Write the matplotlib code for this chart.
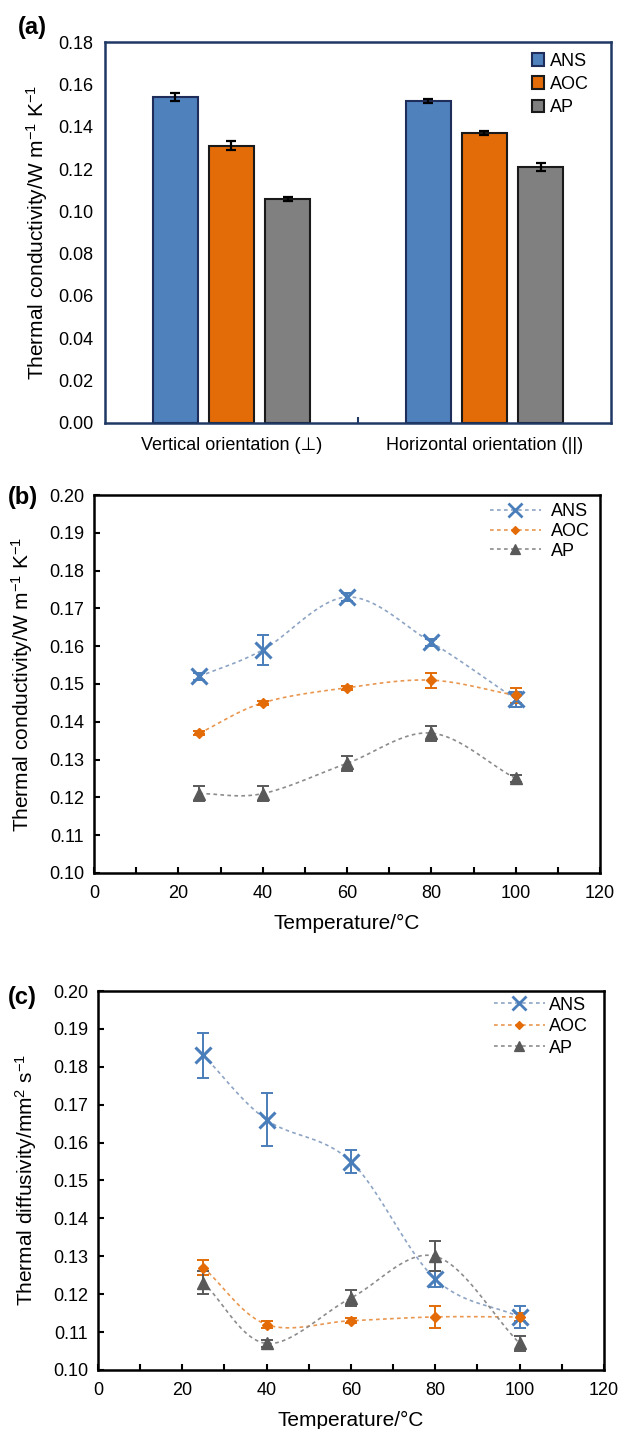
import numpy as np
import matplotlib
matplotlib.use("Agg")
import matplotlib.pyplot as plt

plt.rcParams['font.family'] = ['Liberation Sans', 'DejaVu Sans']
plt.rcParams['mathtext.fontset'] = 'custom'
plt.rcParams['mathtext.rm'] = 'Liberation Sans'
plt.rcParams['mathtext.it'] = 'Liberation Sans:italic'
plt.rcParams['mathtext.bf'] = 'Liberation Sans:bold'

# ---------------- data ----------------
orientations = ["Vertical orientation (\u22a5)", "Horizontal orientation (||)"]
series = ["ANS", "AOC", "AP"]
bar_vals = {"ANS": [0.154, 0.152], "AOC": [0.131, 0.137], "AP": [0.106, 0.121]}
bar_errs = {"ANS": [0.002, 0.001], "AOC": [0.002, 0.001], "AP": [0.001, 0.002]}

temps = [25, 40, 60, 80, 100]
cond_vals = {"ANS": [0.152, 0.159, 0.173, 0.161, 0.146],
             "AOC": [0.137, 0.145, 0.149, 0.151, 0.147],
             "AP":  [0.121, 0.121, 0.129, 0.137, 0.125]}
cond_errs = {"ANS": [0.001, 0.004, 0.001, 0.001, 0.002],
             "AOC": [0.0006, 0.0006, 0.0006, 0.002, 0.002],
             "AP":  [0.002, 0.002, 0.002, 0.002, 0.001]}
diff_vals = {"ANS": [0.183, 0.166, 0.155, 0.124, 0.114],
             "AOC": [0.127, 0.112, 0.113, 0.114, 0.114],
             "AP":  [0.123, 0.107, 0.119, 0.130, 0.107]}
diff_errs = {"ANS": [0.006, 0.007, 0.003, 0.002, 0.003],
             "AOC": [0.002, 0.001, 0.0006, 0.003, 0.001],
             "AP":  [0.003, 0.001, 0.002, 0.004, 0.002]}

yticks_a = [0.00, 0.02, 0.04, 0.06, 0.08, 0.10, 0.12, 0.14, 0.16, 0.18]
yticks_bc = [0.10, 0.11, 0.12, 0.13, 0.14, 0.15, 0.16, 0.17, 0.18, 0.19, 0.20]
xticks_bc = [0, 20, 40, 60, 80, 100, 120]

bar_colors = {"ANS": "#4F81BD", "AOC": "#E36C09", "AP": "#808080"}
bar_edges = {"ANS": "#1F2D5A", "AOC": "#1a1a1a", "AP": "#1a1a1a"}
mk_colors = {"ANS": "#4A7EBB", "AOC": "#E36C09", "AP": "#595959"}
ln_colors = {"ANS": "#8DA4C4", "AOC": "#E9964F", "AP": "#8C8C8C"}
markers = {"ANS": "x", "AOC": "D", "AP": "^"}
msizes = {"ANS": 12, "AOC": 5.5, "AP": 9}
mews = {"ANS": 2.2, "AOC": 1, "AP": 1}

FS = 13


def smooth(x, y, n=30):
    x = np.asarray(x, float); y = np.asarray(y, float)
    px = np.concatenate([[2 * x[0] - x[1]], x, [2 * x[-1] - x[-2]]])
    py = np.concatenate([[2 * y[0] - y[1]], y, [2 * y[-1] - y[-2]]])
    xs, ys = [], []
    for i in range(1, len(px) - 2):
        t = np.linspace(0, 1, n)[:, None]
        p0, p1, p2, p3 = [np.array([px[j], py[j]]) for j in (i - 1, i, i + 1, i + 2)]
        pts = 0.5 * ((2 * p1) + (-p0 + p2) * t + (2 * p0 - 5 * p1 + 4 * p2 - p3) * t ** 2
                     + (-p0 + 3 * p1 - 3 * p2 + p3) * t ** 3)
        xs.append(pts[:, 0]); ys.append(pts[:, 1])
    return np.concatenate(xs), np.concatenate(ys)


fig = plt.figure(figsize=(6.19, 14.29), dpi=100)

# ---------------- (a) ----------------
ax = fig.add_axes([0.1696, 0.7040, 0.8174, 0.2666])
group_x = np.array([0.5, 1.5])
offs = {"ANS": -0.223, "AOC": 0.0, "AP": 0.223}
for s in series:
    ax.bar(group_x + offs[s], bar_vals[s], width=0.178, color=bar_colors[s],
           edgecolor=bar_edges[s], linewidth=1.5, label=s, zorder=2)
    ax.errorbar(group_x + offs[s], bar_vals[s], yerr=bar_errs[s], fmt='none',
                ecolor='black', elinewidth=1.6, capsize=3.3, capthick=1.6, zorder=3)
ax.set_xlim(0, 2)
ax.set_ylim(0, 0.18)
ax.set_yticks(yticks_a)
ax.set_yticklabels([f"{v:.2f}" for v in yticks_a], fontsize=FS)
ax.set_xticks([1.0])
ax.set_xticklabels([""])
ax.tick_params(axis='x', direction='in', length=4, width=1.5, color='#1F3864')
ax.tick_params(axis='y', length=0, pad=8.5)
for i, lab in enumerate(orientations):
    ax.annotate(lab, xy=(group_x[i], 0), xycoords=('data', 'axes fraction'),
                xytext=(0, -16), textcoords='offset points',
                ha='center', va='center', fontsize=FS)
for sp in ax.spines.values():
    sp.set_color('#1F3864'); sp.set_linewidth(1.8)
ax.set_ylabel("Thermal conductivity/W m$^{-1}$ K$^{-1}$", fontsize=15)
ax.yaxis.set_label_coords(-0.108, 0.5)
ax.legend(loc='upper left', bbox_to_anchor=(0.844, 0.972), frameon=False,
          fontsize=FS, handlelength=0.67, handleheight=0.72, handletextpad=0.35,
          labelspacing=0.35, borderpad=0, borderaxespad=0)
fig.text(0.029, 0.981, "(a)", fontsize=17, fontweight='bold', va='center')


def line_panel(rect, vals, errs, ylabel, tag, tag_y, leg_top, spacing, textpad):
    ax = fig.add_axes(rect)
    for s in series:
        xs, ys = smooth(temps, vals[s])
        ax.plot(xs, ys, linestyle=(0, (2.2, 2.0)), color=ln_colors[s], lw=1.2, zorder=2)
        ax.errorbar(temps, vals[s], yerr=errs[s], fmt='none', ecolor=mk_colors[s],
                    elinewidth=1.4, capsize=4, capthick=1.4, zorder=3)
        ax.plot(temps, vals[s], linestyle='none', marker=markers[s], ms=msizes[s],
                mew=mews[s], color=mk_colors[s], zorder=4)
        ax.plot([], [], linestyle=(0, (2.2, 2.0)), color=ln_colors[s], lw=1.2,
                marker=markers[s], ms=msizes[s] * 0.8, mew=mews[s] * 0.9,
                mfc=mk_colors[s], mec=mk_colors[s], label=s)
    ax.set_xlim(0, 120)
    ax.set_ylim(0.10, 0.20)
    ax.set_xticks(xticks_bc)
    ax.set_xticks(np.arange(10, 120, 20), minor=True)
    ax.set_yticks(yticks_bc)
    ax.set_yticklabels([f"{v:.2f}" for v in yticks_bc], fontsize=FS)
    ax.set_xticklabels([str(v) for v in xticks_bc], fontsize=FS)
    ax.tick_params(axis='both', which='major', direction='in', length=4.5, width=1.5)
    ax.tick_params(axis='x', which='major', pad=9)
    ax.tick_params(axis='y', pad=7)
    ax.tick_params(axis='x', which='minor', direction='in', length=4.5, width=1.5)
    for sp in ax.spines.values():
        sp.set_color('black'); sp.set_linewidth(1.8)
    ax.set_xlabel("Temperature/\u00b0C", fontsize=15)
    ax.xaxis.label.set_va('center')
    ax.xaxis.set_label_coords(0.5, -50 / (rect[3] * 1429))
    ax.set_ylabel(ylabel, fontsize=15)
    ax.yaxis.set_label_coords(-0.117, 0.5)
    ax.legend(loc='upper left', bbox_to_anchor=(0.783, leg_top), frameon=False,
              fontsize=FS, handlelength=2.8, handletextpad=textpad,
              labelspacing=spacing, borderpad=0, borderaxespad=0)
    fig.text(0.013, tag_y, tag, fontsize=17, fontweight='bold', va='center')
    return ax


line_panel([0.1519, 0.3891, 0.8174, 0.2645], cond_vals, cond_errs,
           "Thermal conductivity/W m$^{-1}$ K$^{-1}$", "(b)", 0.652, 0.978, 0.15, 0.55)
line_panel([0.1583, 0.0413, 0.8174, 0.2652], diff_vals, diff_errs,
           "Thermal diffusivity/mm$^2$ s$^{-1}$", "(c)", 0.302, 0.985, 0.25, 0.25)

fig.savefig("out.png", dpi=100)
